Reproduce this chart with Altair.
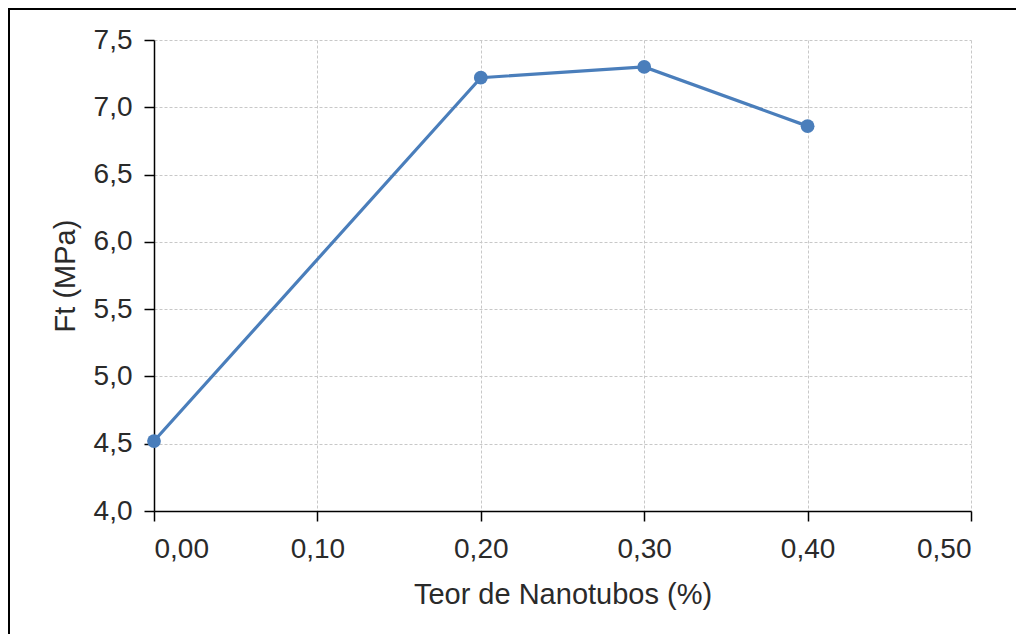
import altair as alt
import pandas as pd

teor = [0.00, 0.20, 0.30, 0.40]
ft = [4.52, 7.22, 7.30, 6.86]

df = pd.DataFrame({"teor": teor, "ft": ft})

FONT = "Liberation Sans"
BLUE = "#4a7ebb"

x_enc = alt.X(
    "teor:Q",
    scale=alt.Scale(domain=[0, 0.5], nice=False, zero=False),
    axis=alt.Axis(
        title="Teor de Nanotubos (%)",
        values=[0, 0.1, 0.2, 0.3, 0.4, 0.5],
        labelExpr="replace(format(datum.value, '.2f'), '.', ',')",
        tickSize=10,
        labelPadding=14,
        titlePadding=17,
    ),
)
y_enc = alt.Y(
    "ft:Q",
    scale=alt.Scale(domain=[4.0, 7.5], nice=False, zero=False),
    axis=alt.Axis(
        title="Ft (MPa)",
        values=[4.0, 4.5, 5.0, 5.5, 6.0, 6.5, 7.0, 7.5],
        labelExpr="replace(format(datum.value, '.1f'), '.', ',')",
        tickSize=10,
        labelPadding=12,
        titlePadding=13,
    ),
)

line = alt.Chart(df).mark_line(color=BLUE, strokeWidth=3.2).encode(x=x_enc, y=y_enc)
pts = alt.Chart(df).mark_point(filled=True, color=BLUE, size=190, opacity=1).encode(x="teor:Q", y="ft:Q")

top_border = alt.Chart(df).mark_rule(color="black", strokeWidth=2).encode(
    x=alt.value(-146), x2=alt.value(880), y=alt.value(-31)
)
left_border = alt.Chart(df).mark_rule(color="black", strokeWidth=2).encode(
    x=alt.value(-145), y=alt.value(-32), y2=alt.value(610)
)

chart = (
    alt.layer(line, pts, top_border, left_border)
    .properties(
        width=817,
        height=471,
        autosize=alt.AutoSizeParams(type="none"),
        padding={"left": 146, "top": 32, "right": 45, "bottom": 123},
        background="white",
    )
    .configure_view(stroke=None)
    .configure_axis(
        labelFont=FONT,
        titleFont=FONT,
        labelFontSize=28,
        titleFontSize=29,
        labelColor="#2a2a2a",
        titleColor="#2a2a2a",
        titleFontWeight="normal",
        domainColor="black",
        domainWidth=1.5,
        tickColor="black",
        tickWidth=1.5,
        gridColor="#c8c8c8",
        gridDash=[3, 2],
        gridWidth=1,
    )
)

chart.save("out.html", embed_options={"renderer": "svg", "actions": False})
